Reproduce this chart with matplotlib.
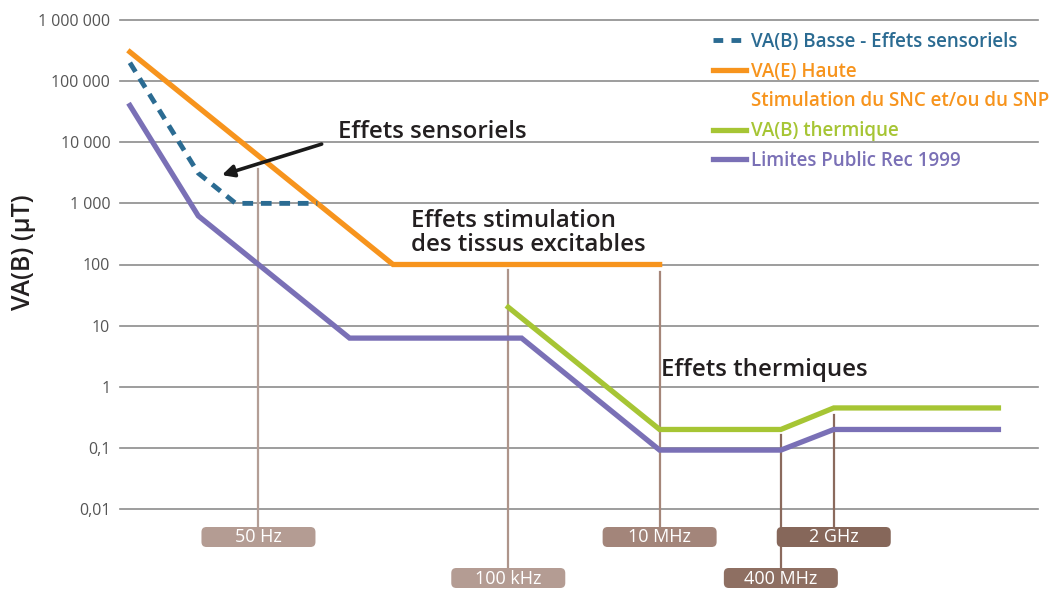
import matplotlib
matplotlib.use("Agg")
import matplotlib.pyplot as plt
from matplotlib.patches import FancyBboxPatch
from matplotlib.lines import Line2D
from matplotlib.transforms import IdentityTransform

plt.rcParams['font.family'] = ['Open Sans', 'DejaVu Sans']

# Valeurs d'action / limites (µT) en fonction de la fréquence (Hz)
freq_basse = [1, 8, 25, 300]
va_b_basse = [2e5, 3125, 1000, 1000]

freq_haute = [1, 3000, 10e6]
va_e_haute = [3e5, 100, 100]

freq_thermique = [100e3, 10e6, 400e6, 2e9, 300e9]
va_b_thermique = [20, 0.2, 0.2, 0.45, 0.45]

freq_public = [1, 8, 800, 150e3, 10e6, 400e6, 2e9, 300e9]
limites_public = [4e4, 625, 6.25, 6.25, 0.092, 0.092, 0.2, 0.2]

# Reperes de frequence
repere_freq = [50, 100e3, 10e6, 400e6, 2e9]
repere_txt = ["50 Hz", "100 kHz", "10 MHz", "400 MHz", "2 GHz"]
repere_haut = [3600, 80, 76, 0.16, 0.34]
repere_rang = [0, 1, 0, 1, 0]
repere_trait = ["#b39e96", "#ae958b", "#a58679", "#8b6a5d", "#8b6a5d"]
repere_fond = ["#b49c93", "#b49c93", "#a3857a", "#8e6f62", "#86675a"]

yticks = [0.01, 0.1, 1, 10, 100, 1000, 10000, 100000, 1000000]
yticklabels = ["0,01", "0,1", "1", "10", "100", "1 000", "10 000", "100 000", "1 000 000"]

c_bleu = "#2b6b92"
c_orange = "#f7941d"
c_vert = "#a6c534"
c_violet = "#7a70b6"
c_texte = "#231f20"

W, H = 1056, 590
fig = plt.figure(figsize=(W / 100, H / 100), dpi=100)
ax = fig.add_axes([120 / W, 1 - 509 / H, (1038 - 120) / W, (509 - 20) / H])
ax.set_xscale("log")
ax.set_yscale("log")
ax.set_xlim(0.74, 1.0e12)
ax.set_ylim(0.01, 1e6)

for v in yticks:
    ax.axhline(v, color="#8c8c8c", lw=1.2, zorder=1, clip_on=False)

ax.plot(freq_public, limites_public, color=c_violet, lw=3.8, zorder=4,
        solid_joinstyle="miter")
ax.plot(freq_thermique, va_b_thermique, color=c_vert, lw=3.8, zorder=4,
        solid_joinstyle="miter")
ax.plot(freq_haute, va_e_haute, color=c_orange, lw=3.8, zorder=4,
        solid_joinstyle="miter")
ax.plot(freq_basse, va_b_basse, color=c_bleu, lw=3.5, zorder=5,
        dashes=(2.2, 1.6))

# reperes verticaux + etiquettes arrondies
fig.canvas.draw()
to_px = ax.transData
for f, txt, top, rang, ct, cf in zip(repere_freq, repere_txt, repere_haut,
                                     repere_rang, repere_trait, repere_fond):
    x, y_top = to_px.transform((f, top))
    y_box_top = H - (527 if rang == 0 else 568)
    ax.plot([x, x], [y_top, y_box_top], color=ct, lw=1.6, zorder=3,
            transform=IdentityTransform(), clip_on=False)
    box = FancyBboxPatch((x - 57, y_box_top - 20), 114, 20,
                         boxstyle="round,pad=0,rounding_size=5",
                         facecolor=cf, edgecolor="none", zorder=2,
                         transform=IdentityTransform(), clip_on=False)
    fig.add_artist(box)
    fig.text(x / W, (y_box_top - 10.5) / H, txt, color="white", fontsize=13,
             ha="center", va="center", zorder=6)

ax.annotate("", xy=(16.4, 2900), xytext=(342, 9330),
            arrowprops=dict(arrowstyle="-|>,head_length=0.7,head_width=0.35",
                            color="#1a1a1a", lw=2.6, shrinkA=0, shrinkB=0),
            zorder=6)
ax.text(556, 14700, "Effets sensoriels", fontsize=17.3, color=c_texte,
        weight="semibold", ha="left", va="center", zorder=6)
ax.text(5110, 330, "Effets stimulation\ndes tissus excitables", fontsize=17.3,
        color=c_texte, weight="semibold", ha="left", va="center",
        linespacing=1.0, zorder=6)
ax.text(1.05e7, 1.87, "Effets thermiques", fontsize=17.3, color=c_texte,
        weight="semibold", ha="left", va="center", zorder=6)

ax.set_yticks(yticks)
ax.set_yticklabels(yticklabels)
ax.minorticks_off()
ax.tick_params(axis="y", length=0, pad=7, labelsize=11.5, labelcolor="#555555")
ax.set_xticks([])
for s in ax.spines.values():
    s.set_visible(False)
fig.text(23 / W, 1 - 252 / H, "VA(B) (µT)", fontsize=18, fontweight="semibold",
         color=c_texte, rotation=90, ha="center", va="center")

# legende : la 2e ligne du libelle orange sans trait
handles = [
    Line2D([], [], color=c_bleu, lw=3.5, dashes=(2.0, 1.7)),
    Line2D([], [], color=c_orange, lw=3.8),
    Line2D([], [], color=c_orange, ls="none"),
    Line2D([], [], color=c_vert, lw=3.8),
    Line2D([], [], color=c_violet, lw=3.8),
]
labels = ["VA(B) Basse - Effets sensoriels", "VA(E) Haute",
          "Stimulation du SNC et/ou du SNP", "VA(B) thermique",
          "Limites Public Rec 1999"]
ax.legend(handles, labels, loc="upper left",
          bbox_to_anchor=(696 / W, 1 - 15 / H), bbox_transform=fig.transFigure,
          frameon=False, handlelength=1.75, handletextpad=0.3,
          labelspacing=0.52, labelcolor="linecolor",
          prop={"weight": "semibold", "size": 13.5})

fig.savefig("out.png", dpi=100)
